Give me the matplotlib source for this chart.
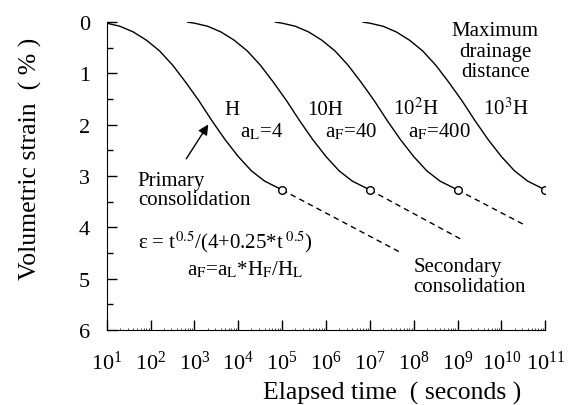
import numpy as np
import matplotlib
matplotlib.use('Agg')
import matplotlib.pyplot as plt
from matplotlib.ticker import LogLocator, LogFormatterMathtext, MultipleLocator

plt.rcParams['font.family'] = ['Liberation Serif', 'DejaVu Serif']
plt.rcParams['mathtext.fontset'] = 'stix'

# primary consolidation curve for drainage distance H
base_time = [7, 10, 20, 40, 80, 160, 320, 630, 1260, 2500, 5000, 1e4, 2e4, 4e4, 1e5]
base_strain = [0.0, 0.02, 0.08, 0.19, 0.35, 0.56, 0.84, 1.17, 1.53, 1.92, 2.29, 2.62, 2.90, 3.10, 3.27]

# time factor for H, 10H, 100H, 1000H (t ~ H^2)
time_factor = [1, 1e2, 1e4, 1e6]

# secondary consolidation (dashed) end points
sec_end_time = [10**7.7, 10**9.14, 10**10.5]
sec_end_strain = [4.49, 4.26, 3.94]

fig = plt.figure(figsize=(5.8, 4.06), dpi=100)
ax = fig.add_axes([0.184, 0.185, 0.756, 0.758])

for i, f in enumerate(time_factor):
    t = np.array(base_time) * f
    ax.plot(t, base_strain, color='black', lw=1.0)
    ax.plot(t[-1], base_strain[-1], 'o', mfc='white', mec='black', ms=5.5, mew=1.0, zorder=5)
    if i < len(sec_end_time):
        ax.plot([t[-1], sec_end_time[i]], [base_strain[-1], sec_end_strain[i]],
                color='black', lw=1.0, ls=(0, (4, 3)), zorder=1)

ax.set_xscale('log')
ax.set_xlim(10, 1e11)
ax.set_ylim(6, 0)
ax.set_yticks(range(7))
ax.yaxis.set_minor_locator(MultipleLocator(0.5))
ax.xaxis.set_major_locator(LogLocator(base=10, numticks=20))
ax.xaxis.set_major_formatter(LogFormatterMathtext())
ax.xaxis.set_minor_locator(LogLocator(base=10, subs=np.arange(2, 10), numticks=20))
ax.xaxis.set_minor_formatter(plt.NullFormatter())

ax.spines['top'].set_visible(False)
ax.spines['right'].set_visible(False)
ax.tick_params(axis='both', which='major', direction='in', length=7, width=1, labelsize=16)
ax.tick_params(axis='x', which='major', pad=15)
ax.tick_params(axis='y', which='major', pad=12)
ax.tick_params(axis='y', which='minor', direction='in', length=4, width=1)
ax.tick_params(axis='x', which='minor', direction='in', length=1.5, width=0.5)

ax.set_xlabel('Elapsed time  ( seconds )', fontsize=18.5)
ax.set_ylabel('Volumetric strain  ( % )', fontsize=18.5)
ax.xaxis.set_label_coords(0.65, -0.165)
ax.yaxis.set_label_coords(-0.148, 0.56)

fs = 15
ax.text(10**3.69, 1.79, 'H', fontsize=fs, va='baseline')
ax.text(10**4.04, 2.22, r'a$_\mathrm{L}$=4', fontsize=fs, va='baseline')
ax.text(10**5.57, 1.79, '10H', fontsize=fs, va='baseline')
ax.text(10**5.98, 2.22, r'a$_\mathrm{F}$=40', fontsize=fs, va='baseline')
ax.text(10**7.53, 1.79, r'10$^\mathrm{2}$H', fontsize=fs, va='baseline')
ax.text(10**7.87, 2.22, r'a$_\mathrm{F}$=400', fontsize=fs, va='baseline')
ax.text(10**9.58, 1.79, r'10$^\mathrm{3}$H', fontsize=fs, va='baseline')
ax.text(10**9.86, -0.02, 'Maximum\ndrainage\ndistance', fontsize=fs, ha='center', va='top',
        linespacing=1.1)
ax.text(10**1.71, 2.9, 'Primary\nconsolidation', fontsize=fs, va='top', linespacing=1.0)
ax.text(10**1.71, 4.4, r'ε = t$^\mathrm{0.5}$/(4+0.25*t$^\mathrm{\ 0.5}$)', fontsize=fs, va='baseline')
ax.text(10**2.83, 4.91, r'a$_\mathrm{F}$=a$_\mathrm{L}$*H$_\mathrm{F}$/H$_\mathrm{L}$', fontsize=fs, va='baseline')
ax.text(10**7.99, 4.58, 'Secondary\nconsolidation', fontsize=fs, va='top', linespacing=1.05)

ax.annotate('', xy=(10**3.35, 1.95), xytext=(10**2.78, 2.71),
            arrowprops=dict(arrowstyle='-|>', color='black', lw=1.0, mutation_scale=15))

fig.savefig('out.png', dpi=100)
